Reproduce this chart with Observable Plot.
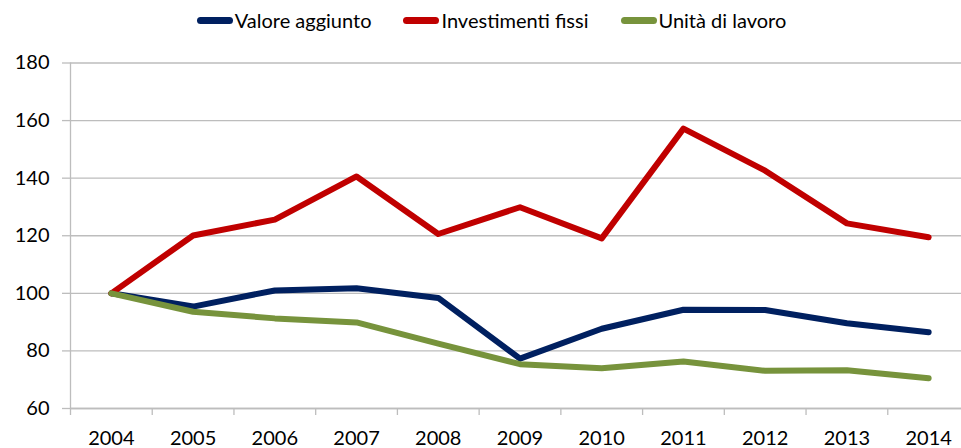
<!DOCTYPE html>
<html>
<head>
<meta charset="utf-8">
<script src="https://cdn.jsdelivr.net/npm/d3@7"></script>
<script src="https://cdn.jsdelivr.net/npm/@observablehq/plot@0.6"></script>
<style>
  html, body { margin: 0; padding: 0; background: #fff; }
  body { width: 961px; height: 448px; overflow: hidden; font-family: Lato, "Open Sans", sans-serif; }
  #legend { height: 40px; display: flex; justify-content: center; align-items: center; font-size: 20px; color: #000; padding-left: 22px; box-sizing: border-box; }
  .item { display: flex; align-items: center; margin: 0 16px; }
  .sw { width: 36px; height: 7px; border-radius: 4px; margin-right: 2px; }
</style>
</head>
<body>
<div id="legend"></div>
<div id="chart"></div>
<script>
const years = [2004, 2005, 2006, 2007, 2008, 2009, 2010, 2011, 2012, 2013, 2014];
const seriesNames = ["Valore aggiunto", "Investimenti fissi", "Unità di lavoro"];
const seriesColors = ["#002060", "#C00000", "#77933C"];
const valoreAggiunto = [100, 95.4, 101.0, 101.8, 98.4, 77.3, 87.7, 94.3, 94.2, 89.6, 86.5];
const investimentiFissi = [100, 120.1, 125.6, 140.6, 120.6, 129.9, 119.1, 157.2, 142.6, 124.3, 119.5];
const unitaLavoro = [100, 93.6, 91.3, 89.9, 82.5, 75.4, 74.0, 76.3, 73.1, 73.3, 70.5];
const yTicks = [60, 80, 100, 120, 140, 160, 180];

const seriesValues = [valoreAggiunto, investimentiFissi, unitaLavoro];
const data = seriesNames.flatMap((name, i) =>
  years.map((year, j) => ({ series: name, year, value: seriesValues[i][j] }))
);
const boundaries = [...years.map(y => y - 0.5), years[years.length - 1] + 0.5];

// legend
const legend = d3.select("#legend");
seriesNames.forEach((name, i) => {
  const it = legend.append("div").attr("class", "item");
  it.append("div").attr("class", "sw").style("background", seriesColors[i]);
  it.append("span").text(name);
});

const chart = Plot.plot({
  width: 961,
  height: 408,
  marginLeft: 70,
  marginRight: 0,
  marginTop: 22.5,
  marginBottom: 40,
  style: { fontFamily: "Lato, 'Open Sans', sans-serif", fontSize: "20px", color: "#000", background: "#fff" },
  x: { domain: [boundaries[0], boundaries[boundaries.length - 1]], range: [70, 969] },
  y: { domain: [60, 180] },
  color: { domain: seriesNames, range: seriesColors },
  marks: [
    Plot.gridY(yTicks, { stroke: "#bdbdbd", strokeOpacity: 1, strokeWidth: 1.3 }),
    Plot.axisY(yTicks, { tickSize: 8, tickPadding: 13, stroke: "#bdbdbd", strokeWidth: 1.3, label: null, fill: "#000" }),
    Plot.axisX(boundaries, { tickSize: 7, tickFormat: () => "", stroke: "#bdbdbd", strokeWidth: 1.3, label: null }),
    Plot.axisX(years, { tickSize: 0, tickPadding: 22, tickFormat: d => String(d), label: null, fill: "#000" }),
    Plot.ruleX([boundaries[0]], { y1: 60, y2: 180, stroke: "#bdbdbd", strokeWidth: 1.3 }),
    Plot.ruleY([60], { stroke: "#bdbdbd", strokeWidth: 1.3 }),
    Plot.line(data, { x: "year", y: "value", z: "series", stroke: "series", strokeWidth: 6, strokeLinecap: "round", strokeLinejoin: "round" })
  ]
});
document.getElementById("chart").appendChild(chart);
</script>
</body>
</html>
